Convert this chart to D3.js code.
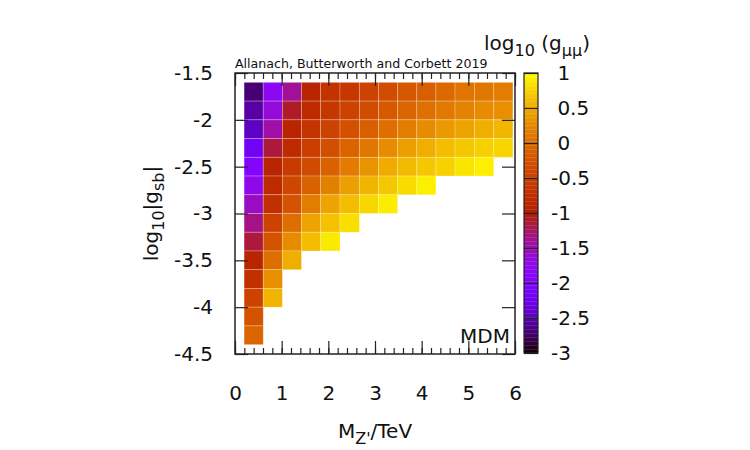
<!DOCTYPE html>
<html lang="en">
<head>
<meta charset="UTF-8">
<title>MDM log10 g_mumu</title>
<script src="https://d3js.org/d3.v7.min.js"></script>
<style>
  body { margin: 0; background: #fff; }
  svg text { font-family: "DejaVu Sans", sans-serif; fill: #111; }
</style>
</head>
<body>
<svg id="chart" width="750" height="450"></svg>
<script>
// column centres, M_Z' in TeV
const massCenters = [0.40, 0.81, 1.22, 1.63, 2.04, 2.46, 2.87, 3.28, 3.69, 4.10, 4.51, 4.92, 5.34, 5.75];
// row centres, log10|g_sb|
const gsbCenters = [-1.7, -1.9, -2.1, -2.3, -2.5, -2.7, -2.9, -3.1, -3.3, -3.5, -3.7, -3.9, -4.1, -4.3];
// log10(g_mumu), one array per row (top to bottom), starting at the first mass column
const gmumu = [
  [-2.70, -1.80, -1.40, -0.90, -0.66, -0.60, -0.45, -0.33, -0.20, -0.12, -0.02, 0.08, 0.10, 0.15],
  [-2.55, -1.65, -1.10, -0.80, -0.60, -0.45, -0.33, -0.18, -0.05, 0.03, 0.12, 0.20, 0.27, 0.30],
  [-2.45, -1.45, -0.90, -0.65, -0.45, -0.28, -0.12, 0.02, 0.15, 0.27, 0.38, 0.45, 0.52, 0.58],
  [-2.20, -1.15, -0.80, -0.50, -0.30, -0.08, 0.10, 0.27, 0.42, 0.52, 0.62, 0.68, 0.74, 0.77],
  [-1.95, -0.90, -0.55, -0.35, -0.10, 0.14, 0.33, 0.50, 0.60, 0.68, 0.75, 0.86, 0.92],
  [-1.75, -0.80, -0.40, -0.10, 0.18, 0.42, 0.56, 0.68, 0.80, 0.92],
  [-1.55, -0.70, -0.25, 0.15, 0.45, 0.62, 0.78, 0.90],
  [-1.35, -0.45, 0.02, 0.45, 0.65, 0.82],
  [-1.15, -0.25, 0.27, 0.62, 0.88],
  [-0.90, 0.02, 0.52],
  [-0.70, 0.30],
  [-0.45, 0.56],
  [-0.25],
  [-0.05]
];
const xTicks = [0, 1, 2, 3, 4, 5, 6];
const yTicks = [-4.5, -4, -3.5, -3, -2.5, -2, -1.5];
const cbTicks = [-3, -2.5, -2, -1.5, -1, -0.5, 0, 0.5, 1];

const svg = d3.select('#chart');
const pLeft = 235, pRight = 515, pTop = 73, pBottom = 354;

const x = d3.scaleLinear().domain([0, 6]).range([pLeft, pRight]);
const y = d3.scaleLinear().domain([-4.5, -1.5]).range([pBottom, pTop]);
const cb = d3.scaleLinear().domain([-3, 1]).range([pBottom - 1, pTop]);

// gnuplot default palette (rgbformulae 7,5,15)
function palette(v) {
  const t = Math.max(0, Math.min(1, (v + 3) / 4));
  const r = Math.sqrt(t), g = t * t * t, b = Math.max(0, Math.sin(2 * Math.PI * t));
  return d3.rgb(r * 255, g * 255, b * 255).toString();
}

// cell edges from the centres
function edges(centers) {
  const e = [centers[0] - (centers[1] - centers[0]) / 2];
  for (let i = 0; i < centers.length - 1; i++) e.push((centers[i] + centers[i + 1]) / 2);
  const n = centers.length;
  e.push(centers[n - 1] + (centers[n - 1] - centers[n - 2]) / 2);
  return e;
}
const xe = edges(massCenters);
const ye = edges(gsbCenters);

const cells = [];
gmumu.forEach((row, i) => row.forEach((v, j) => cells.push({i, j, v})));

svg.append('g').selectAll('rect').data(cells).join('rect')
  .attr('x', d => x(xe[d.j]))
  .attr('width', d => x(xe[d.j + 1]) - x(xe[d.j]))
  .attr('y', d => y(ye[d.i]))
  .attr('height', d => y(ye[d.i + 1]) - y(ye[d.i]))
  .attr('fill', d => palette(d.v))
  .attr('stroke', '#fff')
  .attr('stroke-opacity', 0.3)
  .attr('stroke-width', 0.8);

// axes, ticks pointing inward
function styleAxis(g) {
  g.select('.domain').remove();
  g.selectAll('.tick line').attr('stroke', '#222').attr('stroke-width', 1.2);
  g.selectAll('.tick text').attr('font-size', 20).attr('fill', '#111');
}
const minor = d3.range(0, 6.001, 0.2);

svg.append('g').attr('transform', `translate(0,${pBottom})`)
  .call(d3.axisBottom(x).tickValues(minor).tickSize(-6).tickFormat(''))
  .call(styleAxis);
svg.append('g').attr('transform', `translate(0,${pTop})`)
  .call(d3.axisTop(x).tickValues(minor).tickSize(-6).tickFormat(''))
  .call(styleAxis);
svg.append('g').attr('transform', `translate(0,${pBottom})`)
  .call(d3.axisBottom(x).tickValues(xTicks).tickSize(-13).tickPadding(32).tickFormat(d => String(d)))
  .call(styleAxis);
svg.append('g').attr('transform', `translate(0,${pTop})`)
  .call(d3.axisTop(x).tickValues(xTicks).tickSize(-13).tickFormat(''))
  .call(styleAxis);
svg.append('g').attr('transform', `translate(${pLeft},0)`)
  .call(d3.axisLeft(y).tickValues(yTicks).tickSize(-13).tickPadding(22).tickFormat(d => String(d)))
  .call(styleAxis);
svg.append('g').attr('transform', `translate(${pRight},0)`)
  .call(d3.axisRight(y).tickValues(yTicks).tickSize(-13).tickFormat(''))
  .call(styleAxis);

svg.append('rect')
  .attr('x', pLeft).attr('y', pTop)
  .attr('width', pRight - pLeft).attr('height', pBottom - pTop)
  .attr('fill', 'none').attr('stroke', '#222').attr('stroke-width', 1.5);

// colour box
const cbLeft = 524, cbRight = 538;
const steps = d3.range(0, 280);
svg.append('g').selectAll('rect').data(steps).join('rect')
  .attr('x', cbLeft).attr('width', cbRight - cbLeft)
  .attr('y', k => pTop + k).attr('height', 1.2)
  .attr('fill', k => palette(cb.invert(pTop + k + 0.5)));
svg.append('g').selectAll('line').data(d3.range(0, 280, 4)).join('line')
  .attr('x1', cbLeft).attr('x2', cbRight)
  .attr('y1', k => pTop + k + 0.5).attr('y2', k => pTop + k + 0.5)
  .attr('stroke', '#fff').attr('stroke-opacity', 0.12);

svg.append('g').attr('transform', `translate(${cbRight},0)`)
  .call(d3.axisRight(cb).tickValues(cbTicks).tickSize(-(cbRight - cbLeft)).tickPadding(13)
    .tickFormat(d => String(d)))
  .call(styleAxis)
  .call(g => g.selectAll('.tick text').attr('x', d => d >= 0 ? 19.4 : 13));

svg.append('rect')
  .attr('x', cbLeft).attr('y', pTop)
  .attr('width', cbRight - cbLeft).attr('height', pBottom - pTop - 1)
  .attr('fill', 'none').attr('stroke', '#222').attr('stroke-width', 1.2);

// labels
svg.append('text').attr('x', pLeft).attr('y', 68)
  .attr('font-size', 12.6).text('Allanach, Butterworth and Corbett 2019');

svg.append('text').attr('x', 510).attr('y', 343)
  .attr('text-anchor', 'end').attr('font-size', 20).text('MDM');

const xt = svg.append('text').attr('x', (pLeft + pRight) / 2).attr('y', 438)
  .attr('text-anchor', 'middle').attr('font-size', 20);
xt.append('tspan').text('M');
xt.append('tspan').attr('font-size', 16).attr('dy', 6).text("Z'");
xt.append('tspan').attr('dy', -6).text('/TeV');

const yt = svg.append('text')
  .attr('transform', `translate(158,${(pTop + pBottom) / 2}) rotate(-90)`)
  .attr('text-anchor', 'middle').attr('font-size', 20);
yt.append('tspan').text('log');
yt.append('tspan').attr('font-size', 16).attr('dy', 6).text('10');
yt.append('tspan').attr('dy', -6).text('|g');
yt.append('tspan').attr('font-size', 16).attr('dy', 6).text('sb');
yt.append('tspan').attr('dy', -6).text('|');

const ct = svg.append('text').attr('x', 537).attr('y', 50)
  .attr('text-anchor', 'middle').attr('font-size', 20);
ct.append('tspan').text('log');
ct.append('tspan').attr('font-size', 16).attr('dy', 6).text('10');
ct.append('tspan').attr('dy', -6).text(' (g');
ct.append('tspan').attr('font-size', 16).attr('dy', 6).text('μμ');
ct.append('tspan').attr('dy', -6).text(')');
</script>
</body>
</html>
